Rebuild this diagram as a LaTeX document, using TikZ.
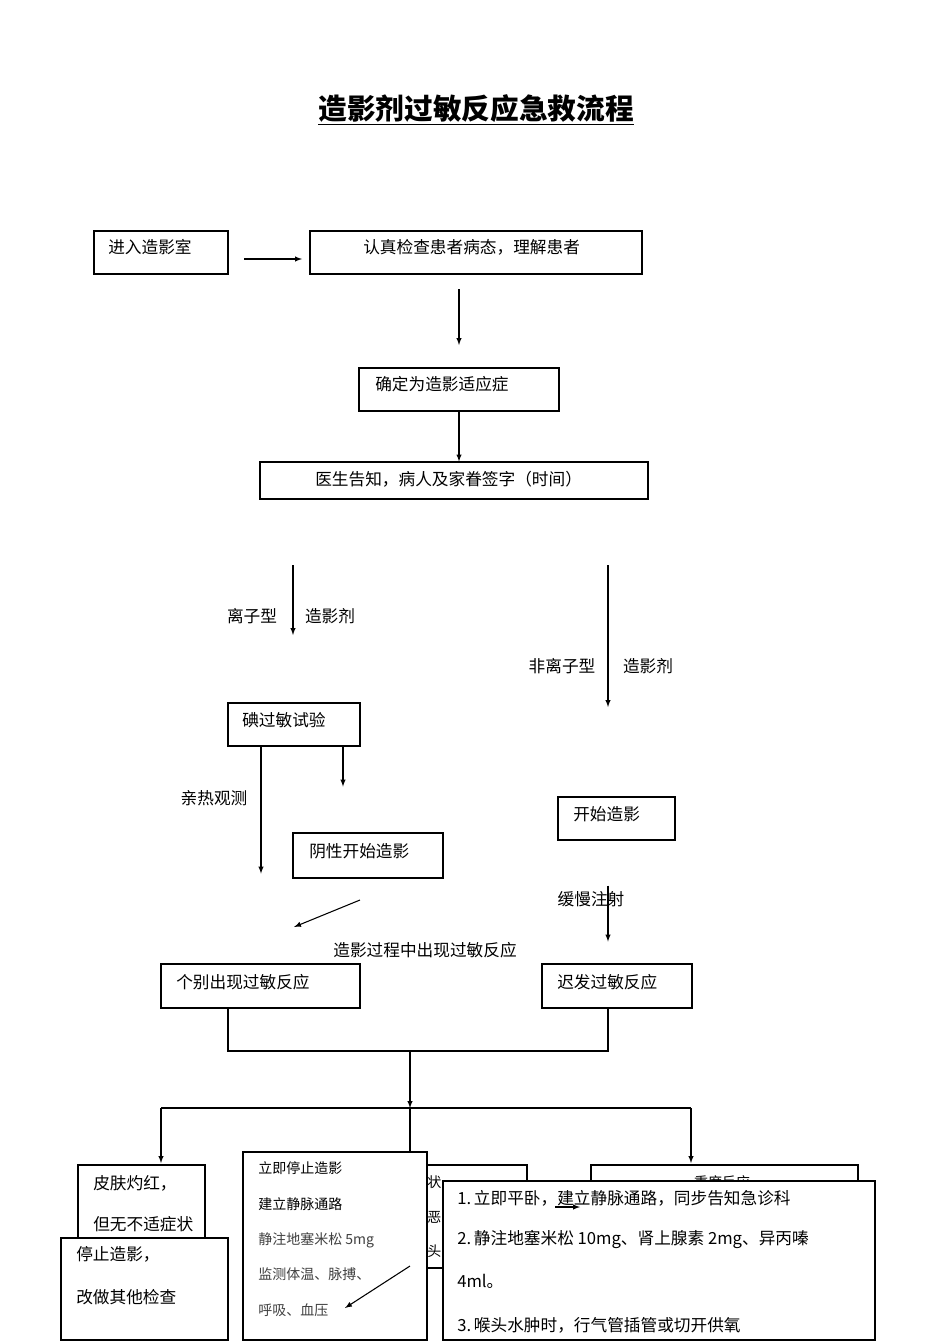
\documentclass[tikz,border=0pt]{standalone}
\usepackage{fontspec}
\setmainfont{Liberation Serif}
\newfontfamily\cjk{Noto Sans CJK SC}
\usetikzlibrary{fit}
\tikzset{
  box/.style={draw, fill=white, line width=0.8pt, inner sep=0pt},
  txt/.style={font=\cjk\fontsize{12.5}{14}\selectfont, inner sep=0pt},
  small/.style={font=\cjk\fontsize{10.5}{12}\selectfont, inner sep=0pt, anchor=west},
  arr/.style={-latex, line width=0.8pt},
  ln/.style={line width=0.8pt}
}
\begin{document}
\begin{tikzpicture}[x=0.75pt, y=-0.75pt]
	\useasboundingbox (0,0) rectangle (950,1342);
	% Title
	\node[font=\cjk\bfseries\fontsize{21.5}{24}\selectfont, inner sep=1pt] (title) at (476,110) {\underline{造影剂过敏反应急救流程}};
	
	% Upper boxes
	\node[box, fit={(94,231) (228,274)}] (enter) {};
	\node[txt, anchor=west] at (108,247) {进入造影室};
	\node[box, fit={(310,231) (642,274)}] (check) {};
	\node[txt, anchor=west] at (363,247) {认真检查患者病态，理解患者};
	\node[box, fit={(359,368) (559,411)}] (confirm) {};
	\node[txt, anchor=west] at (375,384) {确定为造影适应症};
	\node[box, fit={(260,462) (648,499)}] (inform) {};
	\node[txt, anchor=west] at (315,479) {医生告知，病人及家眷签字（时间）};
	
	\coordinate (a1) at (244,259);
	\draw[arr] (a1) -- ++(58,0);
	\coordinate (a2) at (459,289);
	\draw[arr] (a2) -- (confirm.north |- 0,345);
	\draw[arr] (confirm.south) -- (inform.north -| confirm.south);
	
	% Contrast agent type
	\coordinate (ion) at (293,565);
	\coordinate (nonion) at (608,565);
	\draw[arr] (ion) -- ++(0,70);
	\node[txt] at (252,616) {离子型};
	\node[txt] at (330,616) {造影剂};
	\draw[arr] (nonion) -- ++(0,142);
	\node[txt] at (562,666) {非离子型};
	\node[txt] at (648,666) {造影剂};
	
	\node[box, fit={(228,703) (360,746)}] (iodine) {};
	\node[txt, anchor=west] at (242,720) {碘过敏试验};
	\node[box, fit={(293,833) (443,878)}] (negative) {};
	\node[txt, anchor=west] at (309,851) {阴性开始造影};
	\node[box, fit={(558,797) (675,840)}] (start) {};
	\node[txt, anchor=west] at (573,814) {开始造影};
	
	\draw[arr] (iodine.south -| 343,0) -- ++(0,40);
	\draw[arr] (iodine.south -| 261,0) -- ++(0,127);
	\node[txt] at (214,798) {亲热观测};
	\draw[arr] (start.south -| 608,0) ++(0,45) -- ++(0,56);
	\node[txt] at (591,899) {缓慢注射};
	\coordinate (d1) at (360,900);
	\draw[arr] (d1) -- (294,927);
	\node[txt] at (425,950) {造影过程中出现过敏反应};
	
	\node[box, fit={(161,964) (360,1008)}] (some) {};
	\node[txt, anchor=west] at (176,982) {个别出现过敏反应};
	\node[box, fit={(542,964) (692,1008)}] (late) {};
	\node[txt, anchor=west] at (557,982) {迟发过敏反应};
	
	% Branching
	\coordinate (j1) at (228,1051);
	\coordinate (j2) at (608,1051);
	\coordinate (m) at (410,1051);
	\coordinate (b) at (410,1108);
	\draw[ln] (some.south -| j1) -- (j1) -- (j2) -- (late.south -| j2);
	\draw[arr] (m) -- (b);
	\draw[ln] (b) -- (161,1108) coordinate (bl);
	\draw[ln] (b) -- (691,1108) coordinate (br);
	\draw[arr] (bl) -- ++(0,55);
	\draw[arr] (br) -- ++(0,55);
	
	% Bottom boxes
	\node[box, fit={(78,1165) (205,1240)}] (mild) {};
	\node[txt, anchor=west] at (93,1183) {皮肤灼红，};
	\node[txt, anchor=west] at (93,1224) {但无不适症状};
	\node[box, fit={(61,1238) (228,1340)}] (stop) {};
	\node[txt, anchor=west] at (76,1254) {停止造影，};
	\node[txt, anchor=west] at (76,1297) {改做其他检查};
	
	\node[box, fit={(410,1165) (527,1268)}] (moderate) {};
	\node[small] at (427,1182) {状};
	\node[small] at (427,1217) {恶};
	\node[small] at (427,1251) {头};
	\node[box, fit={(591,1165) (858,1200)}] (severe) {};
	\node[small, anchor=center] at (722,1182) {重度反应};
	
	\draw[ln] (b) -- (410,1153);
	\node[box, fit={(243,1152) (427,1340)}] (treat) {};
	\node[small] at (258,1168) {立即停止造影};
	\node[small] at (258,1204) {建立静脉通路};
	\node[small, text=black!75] at (258,1240) {静注地塞米松 5mg};
	\node[small, text=black!75] at (258,1274) {监测体温、脉搏、};
	\node[small, text=black!75] at (258,1310) {呼吸、血压};
	\coordinate (d2) at (410,1266);
	\draw[arr] (d2) -- (345,1308);
	
	\node[box, fit={(443,1181) (875,1340)}] (rescue) {};
	\node[txt, anchor=west] at (457,1198) {1.\,立即平卧，建立静脉通路，同步告知急诊科};
	\node[txt, anchor=west] at (457,1240) {2.\,静注地塞米松 10mg、肾上腺素 2mg、异丙嗪};
	\node[txt, anchor=west] at (457,1281) {4ml。};
	\node[txt, anchor=west] at (457,1325) {3.\,喉头水肿时，行气管插管或切开供氧};
	\coordinate (d3) at (555,1207);
	\draw[arr] (d3) -- ++(25,0);
\end{tikzpicture}
\end{document}
